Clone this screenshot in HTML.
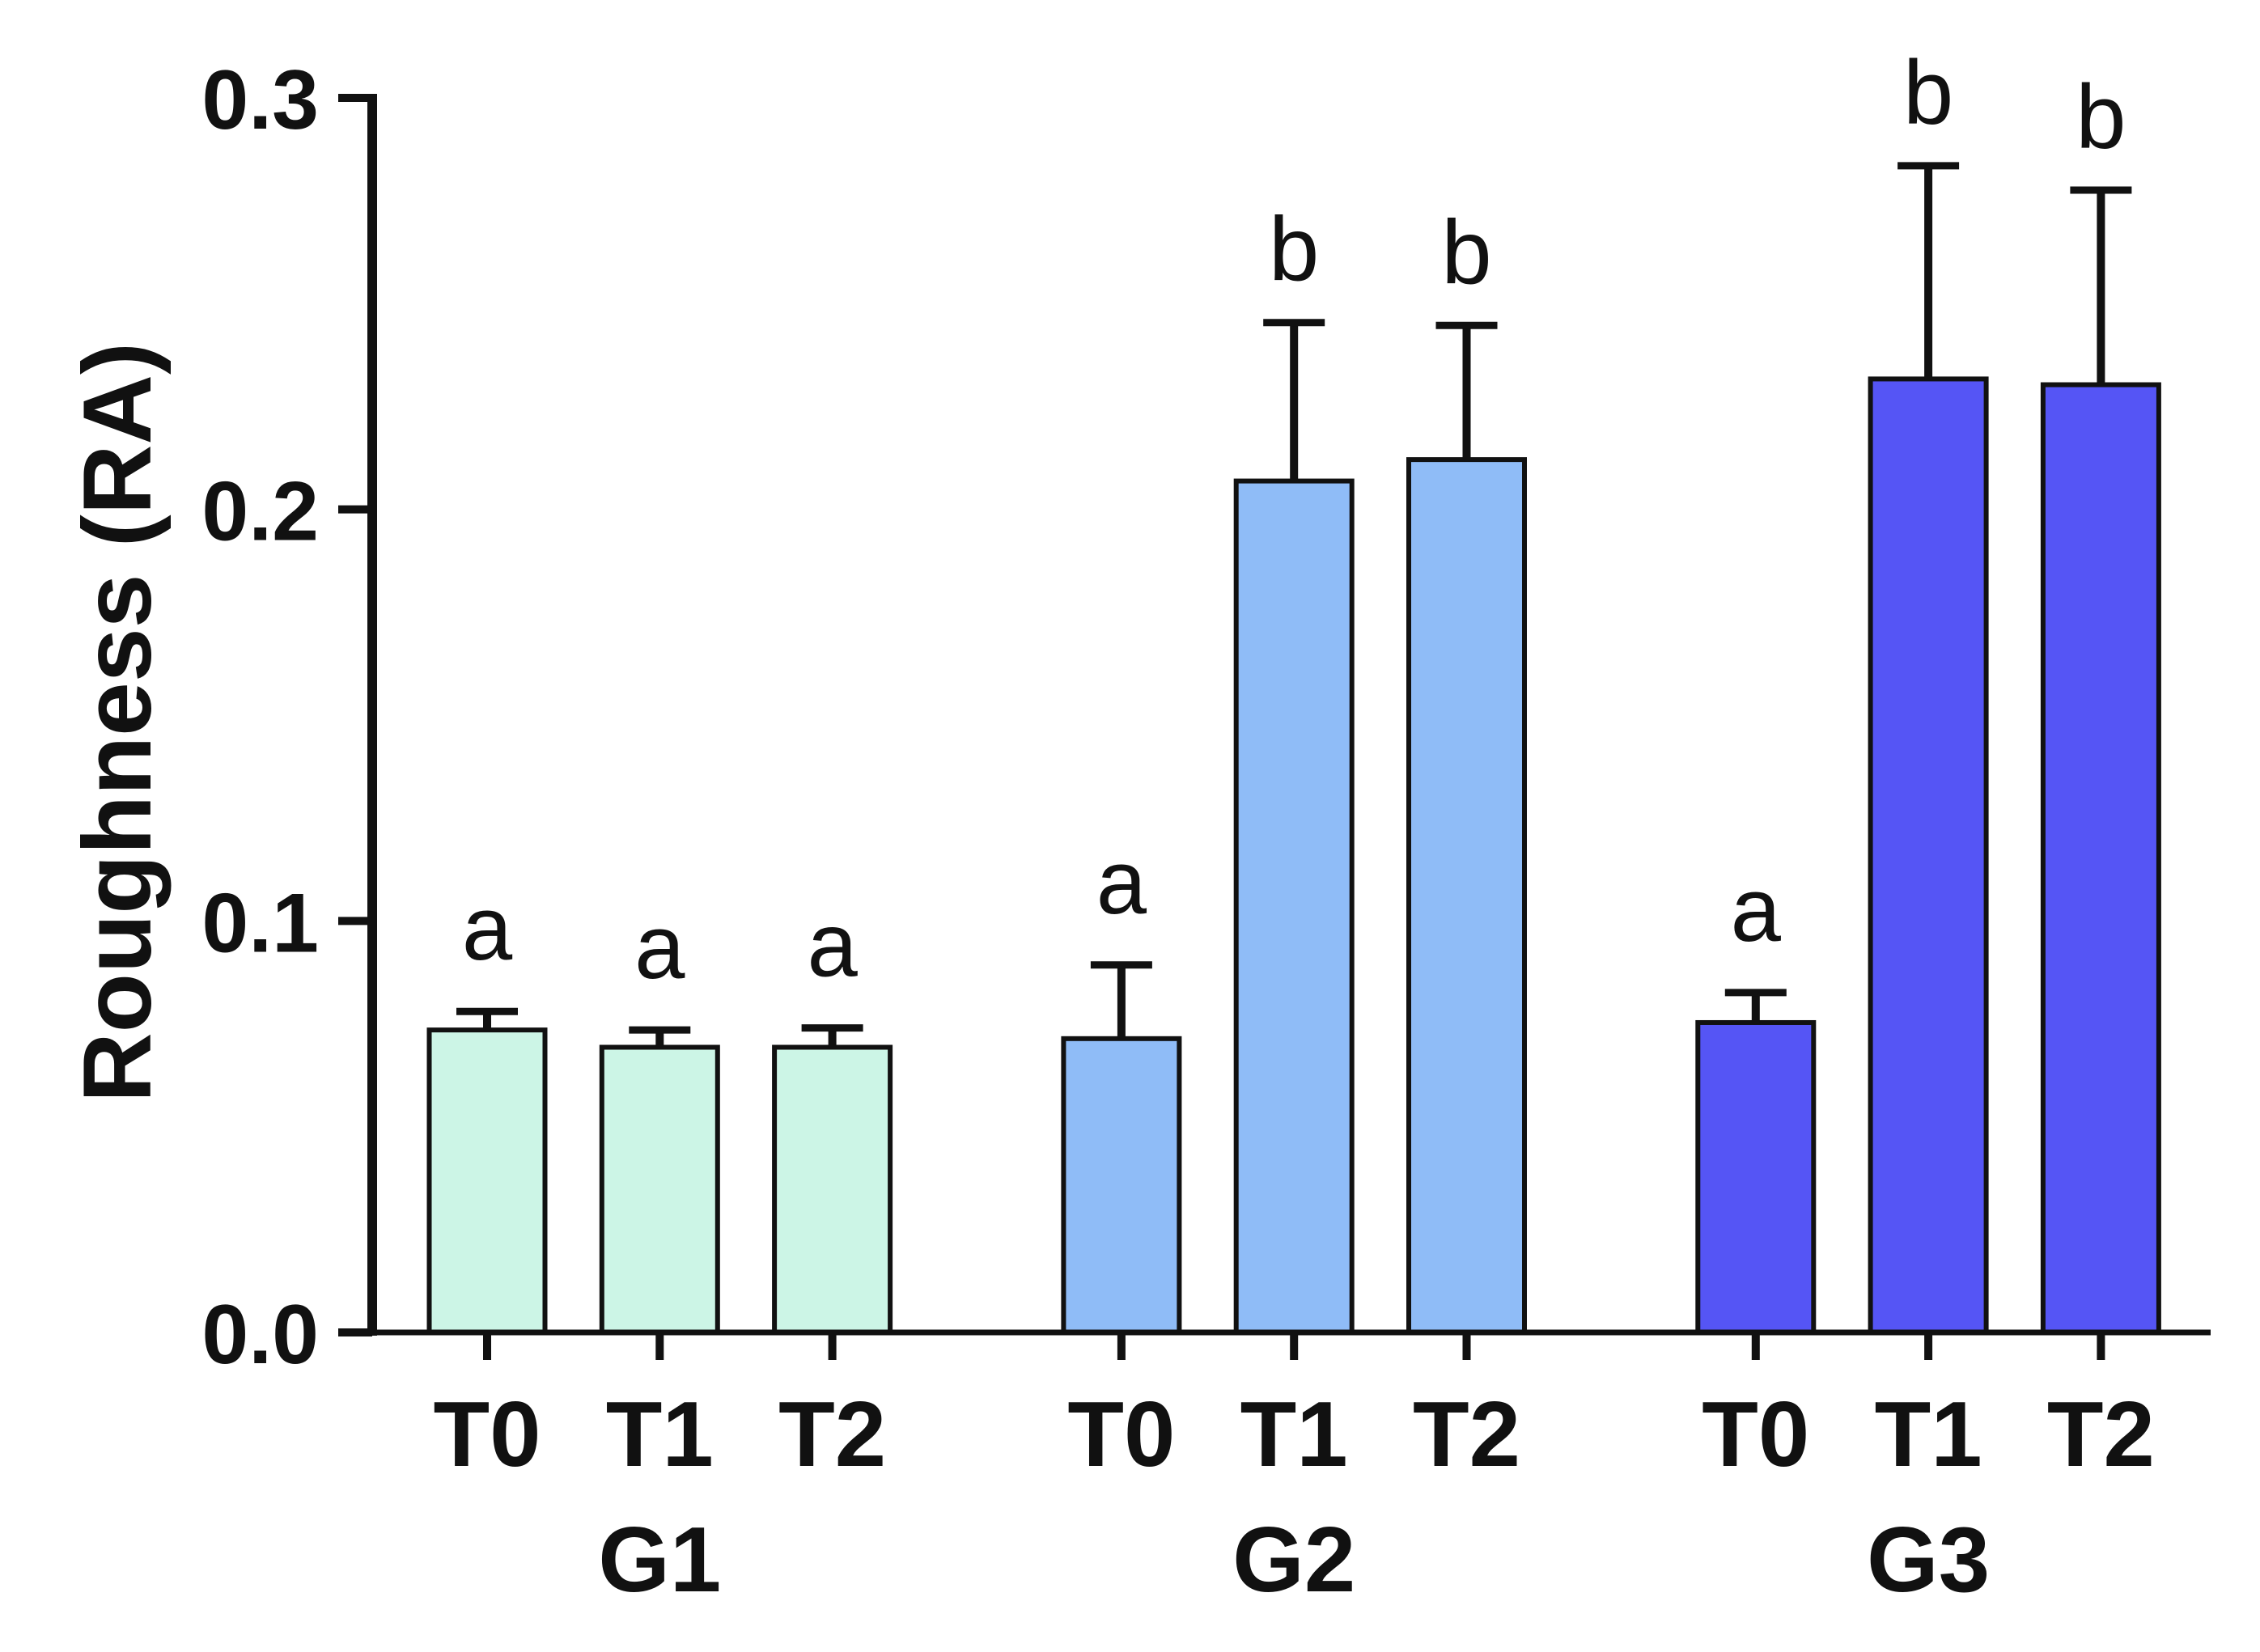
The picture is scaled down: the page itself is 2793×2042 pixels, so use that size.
<!DOCTYPE html>
<html><head><meta charset="utf-8"><style>
html,body{margin:0;padding:0;background:#fff;}
svg text{font-family:"Liberation Sans",Arial,sans-serif;}
</style></head><body>
<svg id="chart" width="2793" height="2037" viewBox="0 0 2793 2037" xmlns="http://www.w3.org/2000/svg">
<rect width="2793" height="2037" fill="#fff"/>
<g id="plot"></g>
</svg>
<script>
const groups = ["G1","G2","G3"];
const times = ["T0","T1","T2"];
const means = [0.0735,0.0693,0.0693, 0.0714,0.2069,0.2121, 0.0753,0.2317,0.2303];
const errs = [0.0045,0.0042,0.0047, 0.0179,0.0385,0.0326, 0.0073,0.0518,0.0473];
const letters = ["a","a","a","a","b","b","a","b","b"];
const yTicks = [0,0.1,0.2,0.3];
const yTickLabels = ["0.0","0.1","0.2","0.3"];
const groupColors = ["#ccf5e6","#8fbcf7","#5555f5"];

const NS="http://www.w3.org/2000/svg";
const g=document.getElementById('plot');
const Y0=1647, Ytop=121, Ymax=0.3;
function y(v){return Y0-(v/Ymax)*(Y0-Ytop);}
const barCenters0=602, barStep=213.3, groupGap=144;
function x(i){const gi=Math.floor(i/3);return barCenters0+i*barStep+gi*groupGap;}
function el(tag,attrs,text){const e=document.createElementNS(NS,tag);for(const k in attrs)e.setAttribute(k,attrs[k]);if(text!==undefined)e.textContent=text;g.appendChild(e);return e;}

means.forEach((m,i)=>{
  const cx=x(i),w=143,gi=Math.floor(i/3);
  const b=el('rect',{x:cx-w/2,y:y(m),width:w,height:Y0-y(m),fill:groupColors[gi],stroke:'#111','stroke-width':6});
  
  
  const top=y(m+errs[i]);
  const e1=el('line',{x1:cx,x2:cx,y1:y(m),y2:top,stroke:'#111','stroke-width':10});
  
  
  const e2=el('line',{x1:cx-38,x2:cx+38,y1:top,y2:top,stroke:'#111','stroke-width':9});
  
  
  const t=el('text',{x:cx,y:top-(letters[i]==='b'?52:64),'font-size':112,'text-anchor':'middle',fill:'#111'},letters[i]);
  
  
  const tk=el('line',{x1:cx,x2:cx,y1:Y0,y2:Y0+34,stroke:'#111','stroke-width':10});
  
  
  const tl=el('text',{x:cx,y:1812,'font-size':114,'font-weight':'bold','text-anchor':'middle',fill:'#111'},times[i%3]);
  
  
});
groups.forEach((gn,gi)=>{
  const t=el('text',{x:x(gi*3+1),y:1967,'font-size':114,'font-weight':'bold','text-anchor':'middle',fill:'#111'},gn);
  
  
});
const ya=el('line',{x1:460,x2:460,y1:Ytop-5,y2:Y0+4,stroke:'#111','stroke-width':12});


const xa=el('line',{x1:418,x2:2732,y1:Y0,y2:Y0,stroke:'#111','stroke-width':7});


yTicks.forEach((v,i)=>{
  const l=el('line',{x1:418,x2:460,y1:y(v),y2:y(v),stroke:'#111','stroke-width':10});
  
  
  const t=el('text',{x:394,y:y(v)+38,'font-size':104,'font-weight':'bold','text-anchor':'end',fill:'#111'},yTickLabels[i]);
  
  
});
const yt=el('text',{x:0,y:0,'font-size':120,'font-weight':'bold','text-anchor':'middle',fill:'#111',transform:'translate(186,893) rotate(-90)'},'Roughness (RA)');


</script>
</body></html>
